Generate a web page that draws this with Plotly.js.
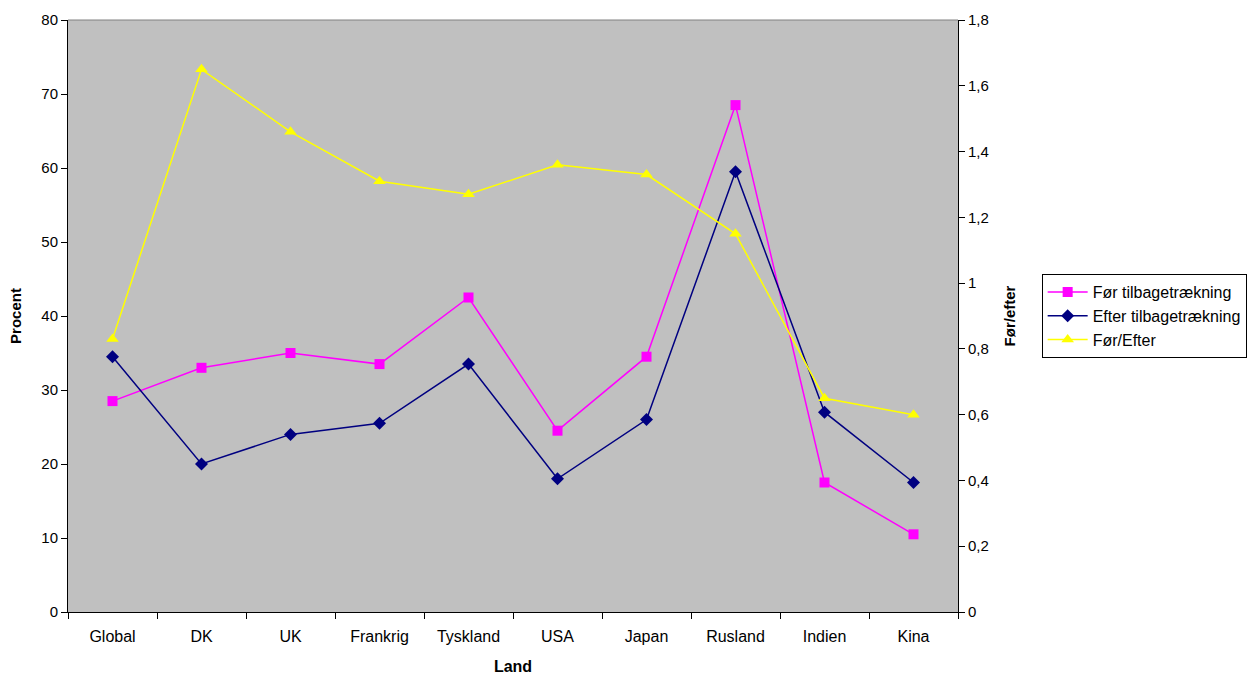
<!DOCTYPE html>
<html>
<head>
<meta charset="utf-8">
<script src="https://cdn.plot.ly/plotly-3.0.1.min.js"></script>
<style>html,body{margin:0;padding:0;background:#fff;}#chart{width:1260px;height:675px;}</style>
</head>
<body>
<div id="chart"></div>
<script>
const categories = ["Global","DK","UK","Frankrig","Tyskland","USA","Japan","Rusland","Indien","Kina"];
const forTilbage = [28.5,33,35,33.5,42.5,24.5,34.5,68.5,17.5,10.5];
const efterTilbage = [34.5,20,24,25.5,33.5,18,26,59.5,27,17.5];
const forEfter = [0.83,1.65,1.46,1.31,1.27,1.36,1.33,1.15,0.65,0.60];
const leftTicks = [0,10,20,30,40,50,60,70,80];
const rightTicks = [0,0.2,0.4,0.6,0.8,1,1.2,1.4,1.6,1.8];
const rightTickText = ["0","0,2","0,4","0,6","0,8","1","1,2","1,4","1,6","1,8"];

const fam = "Liberation Sans, Arial, sans-serif";
const font = {family:fam, size:15, color:"#000"};

const traces = [
  {x:categories, y:forTilbage, name:"Før tilbagetrækning", type:"scatter", mode:"lines+markers",
   line:{color:"#FF00FF", width:1.5}, marker:{symbol:"square", size:10, color:"#FF00FF"}},
  {x:categories, y:efterTilbage, name:"Efter tilbagetrækning", type:"scatter", mode:"lines+markers",
   line:{color:"#000080", width:1.5}, marker:{symbol:"diamond", size:10, color:"#000080"}},
  {x:categories, y:forEfter, name:"Før/Efter", type:"scatter", mode:"lines+markers", yaxis:"y2",
   line:{color:"#FFFF00", width:1.5}, marker:{symbol:"triangle-up", size:11, color:"#FFFF00"}}
];

const layout = {
  width:1260, height:675,
  margin:{l:68, r:302, t:20, b:63},
  paper_bgcolor:"#FFFFFF", plot_bgcolor:"#C0C0C0",
  font:font,
  showlegend:true,
  legend:{x:1.094, xanchor:"left", y:0.5, yanchor:"middle", bordercolor:"#000", borderwidth:1,
          bgcolor:"#FFFFFF", font:{family:fam, size:16, color:"#000"}, tracegroupgap:0,
          itemwidth:40},
  xaxis:{type:"category", range:[-0.5,9.5], showgrid:false, zeroline:false,
         showline:true, linecolor:"#000", linewidth:1, ticks:"outside", ticklen:6, tickcolor:"#000",
         tickson:"boundaries", tickfont:{family:fam, size:16}, ticklabelstandoff:10,
         title:{text:"<b>Land</b>", font:{family:fam, size:16}, standoff:17}},
  yaxis:{range:[0,80], tickvals:leftTicks, showgrid:false, zeroline:false,
         showline:true, linecolor:"#000", linewidth:1, ticks:"outside", ticklen:6, tickcolor:"#000",
         tickfont:{family:fam, size:15},
         title:{text:"<b>Procent</b>", font:{family:fam, size:15}, standoff:16}},
  yaxis2:{range:[0,1.8], overlaying:"y", side:"right", tickvals:rightTicks, ticktext:rightTickText,
          showgrid:false, zeroline:false, showline:true, linecolor:"#000", linewidth:1,
          ticks:"outside", ticklen:6, tickcolor:"#000", tickfont:{family:fam, size:15},
          title:{text:"<b>Før/efter</b>", font:{family:fam, size:15}, standoff:16}},
  shapes:[{type:"line", xref:"paper", yref:"paper", x0:0, x1:1, y0:1, y1:1,
           line:{color:"#808080", width:1}}]
};

Plotly.newPlot("chart", traces, layout, {displayModeBar:false, staticPlot:true});
</script>
</body>
</html>
